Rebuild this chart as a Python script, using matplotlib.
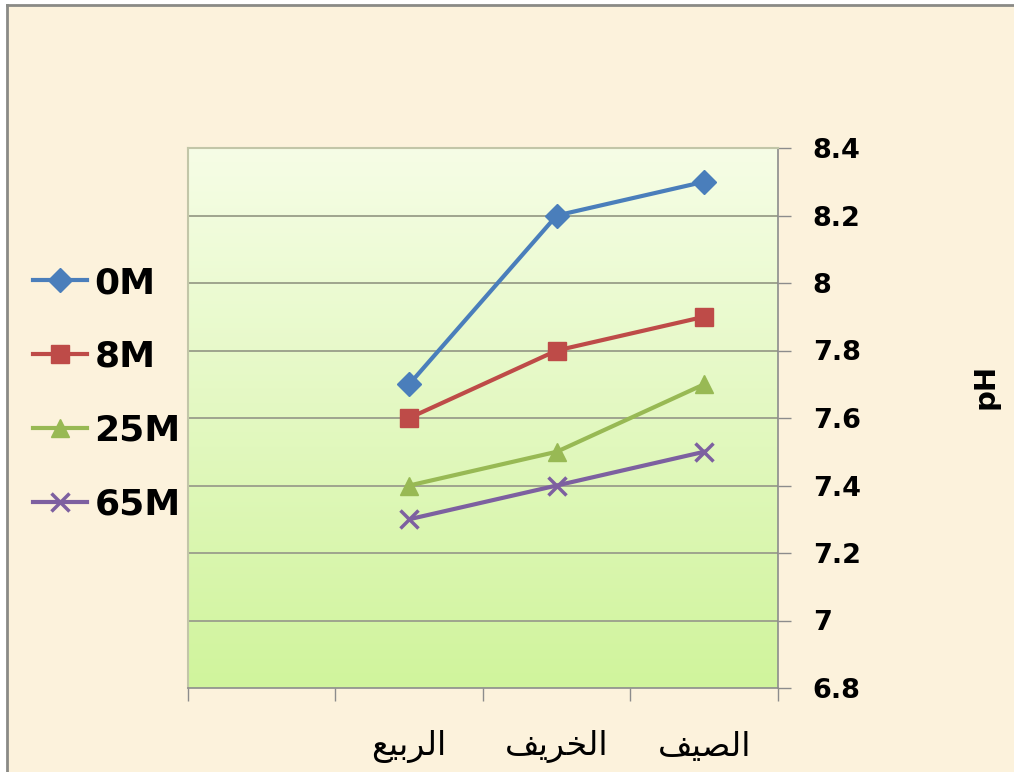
import numpy as np
import matplotlib
matplotlib.use("Agg")
import matplotlib.pyplot as plt
from matplotlib.patches import Rectangle
from matplotlib.lines import Line2D

# Seasons (Arabic, pre-shaped presentation forms in visual order), right to left
seasons = ["\uFED2\uFEF4\uFEBC\uFEDF\uFE8D",          # الصيف
           "\uFED2\uFEF3\uFEAE\uFEA8\uFEDF\uFE8D",    # الخريف
           "\uFECA\uFEF4\uFE91\uFEAE\uFEDF\uFE8D",    # الربيع
           ""]

depths = ["0M", "8M", "25M", "65M"]
ph_0m = [8.3, 8.2, 7.7, np.nan]
ph_8m = [7.9, 7.8, 7.6, np.nan]
ph_25m = [7.7, 7.5, 7.4, np.nan]
ph_65m = [7.5, 7.4, 7.3, np.nan]
series = [ph_0m, ph_8m, ph_25m, ph_65m]

y_ticks = [6.8, 7.0, 7.2, 7.4, 7.6, 7.8, 8.0, 8.2, 8.4]
y_tick_labels = ["6.8", "7", "7.2", "7.4", "7.6", "7.8", "8", "8.2", "8.4"]

colors = ["#4a7ebb", "#be4b48", "#98b954", "#7d60a0"]
markers = ["D", "s", "^", "x"]
msizes = [12, 13, 13, 13]

W, H = 1014, 772
fig = plt.figure(figsize=(W / 100, H / 100), dpi=100, facecolor="white")

# page background with a thin frame on the top and left
bg = "#fcf2dc"
fig.patches.append(Rectangle((7 / W, 0), 1, 1 - 5 / H, transform=fig.transFigure,
                             facecolor=bg, edgecolor="none", zorder=-10))
fig.add_artist(Line2D([7 / W, 7 / W], [0, 1 - 5 / H], transform=fig.transFigure,
                      color="#8a8a86", lw=2))
fig.add_artist(Line2D([7 / W, 1], [1 - 5 / H, 1 - 5 / H], transform=fig.transFigure,
                      color="#8a8a86", lw=2))

left, right, top, bottom = 188, 778, 148, 688
ax = fig.add_axes([left / W, 1 - bottom / H, (right - left) / W, (bottom - top) / H])
ax.set_facecolor("none")

# vertical gradient fill of the plot area
grad = np.linspace(0, 1, 256).reshape(-1, 1)
c_top = np.array([246, 253, 230]) / 255
c_bot = np.array([208, 244, 156]) / 255
img = c_top[None, None, :] * (1 - grad[:, :, None]) + c_bot[None, None, :] * grad[:, :, None]
ax.imshow(img, extent=[0, 1, 0, 1], transform=ax.transAxes, aspect="auto", zorder=0)

x = np.arange(len(seasons))
for vals, lab, c, m, ms in zip(series, depths, colors, markers, msizes):
    ax.plot(x, vals, color=c, lw=3.0, marker=m, markersize=ms,
            markeredgewidth=2.5 if m == "x" else 1, markeredgecolor=c,
            markerfacecolor=c, label=lab, zorder=3)

ax.set_xlim(len(seasons) - 0.5, -0.5)
ax.set_ylim(6.8, 8.4)

ax.yaxis.tick_right()
ax.set_yticks(y_ticks)
ax.set_yticklabels(y_tick_labels, fontsize=19.5, fontweight="bold", family="DejaVu Sans")
ax.tick_params(axis="y", direction="out", length=9, width=1, color="#8c8c8c", pad=16)

ax.set_xticks(x)
ax.set_xticklabels(seasons, fontsize=24, family="DejaVu Sans")
ax.tick_params(axis="x", which="major", length=0, pad=30)
ax.set_xticks(np.arange(-0.5, len(seasons)), minor=True)
ax.tick_params(axis="x", which="minor", direction="out", length=9, width=1, color="#8c8c8c")

for yv in y_ticks[1:-1]:
    ax.axhline(yv, color="#9fa48e", lw=1.4, zorder=1)

for side in ["left", "top"]:
    ax.spines[side].set_color("#c2c6a8")
    ax.spines[side].set_linewidth(1.5)
for side in ["right", "bottom"]:
    ax.spines[side].set_color("#8c8c8c")
    ax.spines[side].set_linewidth(1.2)

# axis title on the right-hand side
fig.text(985 / W, 1 - 386 / H, "pH", fontsize=21, fontweight="bold", rotation=90,
         ha="center", va="center", family="DejaVu Sans")

leg = fig.legend(loc="upper left", bbox_to_anchor=(33 / W, 1 - 266 / H), frameon=False,
                 prop={"family": "DejaVu Sans", "weight": "bold", "size": 26},
                 handlelength=1.5, handletextpad=0.2, labelspacing=1.1,
                 borderpad=0, borderaxespad=0)

fig.savefig("out.png", dpi=100, facecolor=fig.get_facecolor())
